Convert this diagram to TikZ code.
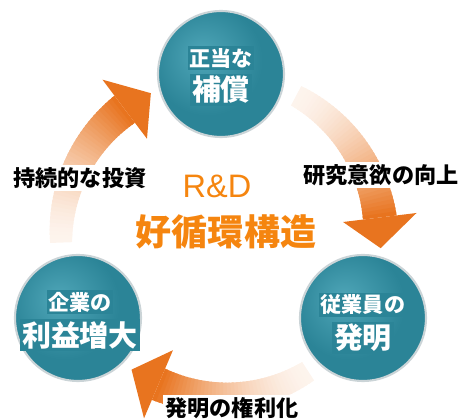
\documentclass[tikz,border=0pt]{standalone}
\usepackage{fontspec}
\newfontfamily\jpfont{Noto Sans CJK JP}
\newfontfamily\latinfont{Liberation Sans}
\usetikzlibrary{calc}
\definecolor{TealMain}{HTML}{2B8497}
\definecolor{TealLight}{HTML}{4FA6B8}
\definecolor{TealDark}{HTML}{1E6272}
\definecolor{RimGray}{HTML}{CBD4D7}
\definecolor{ArrowOrange}{HTML}{E8741F}
\definecolor{TextOrange}{HTML}{F5850F}
\pgfdeclareradialshading{tealball}{\pgfpoint{-8bp}{8bp}}{color(0bp)=(TealLight); color(22bp)=(TealMain); color(42bp)=(TealMain); color(54bp)=(TealDark); color(70bp)=(TealDark)}

% arc arrow: start angle, angle of the head base, tip angle
\newcommand{\cyclearrow}[3]{%
  \foreach \i in {0,...,39}{
    \pgfmathsetmacro\aa{#1+(#2-#1)*\i/40}
    \pgfmathsetmacro\ab{#1+(#2-#1)*min(\i+1.5,40)/40}
    \pgfmathsetmacro\ria{160-(11+6*\i/40)}
    \pgfmathsetmacro\roa{160+(11+6*\i/40)}
    \pgfmathsetmacro\rib{160-(11+6*min(\i+1.5,40)/40)}
    \pgfmathsetmacro\rob{160+(11+6*min(\i+1.5,40)/40)}
    \pgfmathsetmacro\pc{8+92*(\i/39)^1.6}
    \fill[ArrowOrange!\pc!white] (\aa:\ria) -- (\aa:\roa) -- (\ab:\rob) -- (\ab:\rib) -- cycle;
  }
  \fill[ArrowOrange] (#2:123) -- (#3:160) -- (#2:197) -- cycle;
}

\tikzset{
  ball/.style={circle,minimum size=2.52cm,inner sep=0pt,shading=tealball,draw=RimGray,line width=1.2pt},
  smalltxt/.style={font=\jpfont\bfseries\fontsize{12}{14}\selectfont,text=white,fill=TealMain,inner sep=1pt},
  bigtxt/.style={font=\jpfont\bfseries\fontsize{16.5}{19}\selectfont,text=white,fill=TealMain,inner sep=1pt},
  steplabel/.style={font=\jpfont\bfseries\fontsize{12.6}{15}\selectfont,fill=white,inner sep=1.5pt},
}

\begin{document}
\begin{tikzpicture}[x=0.02cm,y=0.02cm]
  \useasboundingbox (-221,-182) rectangle (240,237);

  % arrows
  \cyclearrow{62}{7}{-4}
  \cyclearrow{-57}{-113}{-124}
  \cyclearrow{182}{127}{116}

  % circles
  \node[ball] (hosho) at (0,163) {};
  \node[ball] (hatsumei) at (142,-81) {};
  \node[ball] (rieki) at (-143,-81) {};

  \node[smalltxt] at ($(hosho)+(0,16)$) {正当な};
  \node[bigtxt] at ($(hosho)+(0,-16)$) {補償};
  \node[smalltxt] at ($(hatsumei)+(0,13)$) {従業員の};
  \node[bigtxt] at ($(hatsumei)+(0,-20)$) {発明};
  \node[smalltxt] at ($(rieki)+(2,16)$) {企業の};
  \node[bigtxt] at ($(rieki)+(2,-17)$) {利益増大};

  % labels
  \node[steplabel] (iyoku) at (160,62) {研究意欲の向上};
  \node[steplabel] (kenri) at (11,-171) {発明の権利化};
  \node[steplabel] (toshi) at (-141,59) {持続的な投資};

  \node[font=\latinfont\fontsize{18.5}{20}\selectfont,text=TextOrange,inner sep=0pt] (rd) at (-4,51) {R\&D};
  \node[font=\jpfont\bfseries\fontsize{20.5}{24}\selectfont,text=TextOrange,inner sep=0pt] (junkan) at (5,5) {好循環構造};
\end{tikzpicture}
\end{document}
